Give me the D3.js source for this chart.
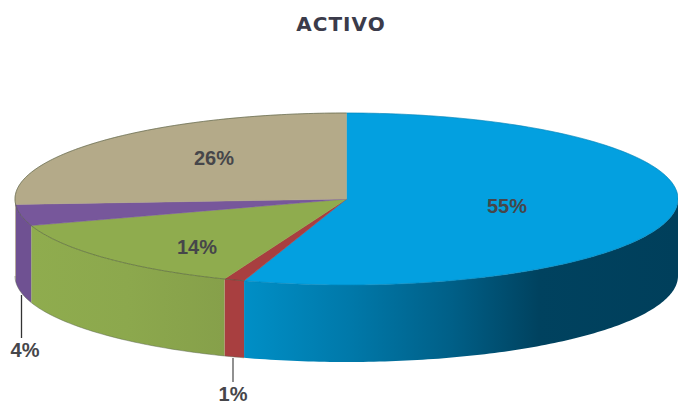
<!DOCTYPE html>
<html>
<head>
<meta charset="utf-8">
<title>ACTIVO</title>
<script src="https://cdn.jsdelivr.net/npm/d3@7"></script>
<style>
  html, body { margin: 0; background: #fff; }
  svg { display: block; }
  text { font-family: "Liberation Sans", Arial, sans-serif; font-weight: bold; fill: #46464a; }
</style>
</head>
<body>
<script>
// Chart values
const chartTitle = 'ACTIVO';
const shares = [55, 1, 14, 4, 26];
const shareLabels = ['55%', '1%', '14%', '4%', '26%'];
const topColors = ['#03a0e0', '#a83f40', '#8fac4e', '#77579b', '#b4aa89'];

// Layout, kept apart from the values
const width = 678, height = 405;
const depth = 77;
const labelAt = [[507, 206], [233, 394], [197, 247], [25, 350], [214, 158]];
const leaders = { 1: [358, 382], 3: [295, 338] };
const leaderX = { 1: 233, 3: 21.5 };

// Wall shading per slice: [offset from the right end of the wall, colour]
const wallStops = [
  [[0, '#003f5b'], [0.32, '#00425f'], [0.52, '#005f87'], [0.76, '#0079aa'], [1, '#008fc6']],
  [[0, '#a83f40'], [1, '#a83f40']],
  [[0, '#86a04a'], [0.5, '#8ca84d'], [1, '#8fac4e']],
  [[0, '#6f5192'], [1, '#6f5192']],
  [[0, '#a89f80'], [1, '#a89f80']]
];

const svg = d3.select('body').append('svg')
  .attr('width', width)
  .attr('height', height);

// The disc is a unit circle mapped onto the ellipse by two scales
const xScale = d3.scaleLinear().domain([-1, 1]).range([15, 678]);
const yScale = d3.scaleLinear().domain([-1, 1]).range([113, 285]);

const pie = d3.pie().sort(null).value(d => d);
const slices = pie(shares);

const px = a => xScale(Math.sin(a));
const py = a => yScale(-Math.cos(a));

function sweep(a0, a1) {
  const n = Math.max(2, Math.ceil((a1 - a0) * 60));
  return d3.range(n + 1).map(i => a0 + (a1 - a0) * i / n);
}

const defs = svg.append('defs');
const wallArea = d3.area().x(px).y0(py).y1(a => py(a) + depth);
const rimLine = d3.line().x(px).y(py);

// Front walls: only the part of each slice between 90 and 270 degrees shows
const frontFrom = Math.PI / 2, frontTo = Math.PI * 1.5;

slices.forEach((s, i) => {
  const a0 = Math.max(s.startAngle, frontFrom);
  const a1 = Math.min(s.endAngle, frontTo);
  if (a1 <= a0) return;
  const pts = sweep(a0, a1);
  const xs = d3.extent(pts, px);

  const grad = defs.append('linearGradient')
    .attr('id', 'wall' + i)
    .attr('gradientUnits', 'userSpaceOnUse')
    .attr('x1', xs[1]).attr('x2', xs[0])
    .attr('y1', 0).attr('y2', 0);
  wallStops[i].forEach(st => {
    grad.append('stop')
      .attr('offset', st[0])
      .attr('stop-color', st[1]);
  });

  svg.append('path')
    .attr('d', wallArea(pts))
    .attr('fill', `url(#wall${i})`);

  // bottom edge
  svg.append('path')
    .attr('d', d3.line().x(px).y(a => py(a) + depth)(pts))
    .attr('fill', 'none')
    .attr('stroke', '#5a6650')
    .attr('stroke-opacity', i === 0 ? 0 : 0.6)
    .attr('stroke-width', 0.8);
});

// Top of the disc
slices.forEach((s, i) => {
  const pts = sweep(s.startAngle, s.endAngle);
  const arc = rimLine(pts);
  svg.append('path')
    .attr('d', `M${xScale(0)},${yScale(0)}L${arc.slice(1)}Z`)
    .attr('fill', topColors[i])
    .attr('stroke', topColors[i])
    .attr('stroke-width', 0.5);
});

// Thin dark rim on the front of the disc and along the back
slices.forEach((s, i) => {
  svg.append('path')
    .attr('d', rimLine(sweep(s.startAngle, s.endAngle)))
    .attr('fill', 'none')
    .attr('stroke', i === 0 ? '#035a80' : '#4a5238')
    .attr('stroke-opacity', i === 0 ? 0.35 : 0.7)
    .attr('stroke-width', 0.8);
});

// Leader lines for the two small slices
Object.keys(leaders).forEach(k => {
  svg.append('line')
    .attr('x1', leaderX[k]).attr('x2', leaderX[k])
    .attr('y1', leaders[k][0]).attr('y2', leaders[k][1])
    .attr('stroke', k === '1' ? '#555' : '#333')
    .attr('stroke-width', 1.3);
});

// Percent labels
svg.selectAll('text.share')
  .data(shareLabels)
  .enter()
  .append('text')
  .attr('class', 'share')
  .attr('x', (d, i) => labelAt[i][0])
  .attr('y', (d, i) => labelAt[i][1])
  .attr('dy', '0.36em')
  .attr('text-anchor', 'middle')
  .attr('font-size', 20)
  .text(d => d);

svg.append('text')
  .attr('x', 341)
  .attr('y', 31)
  .attr('text-anchor', 'middle')
  .attr('font-size', 20)
  .attr('letter-spacing', 1)
  .style('font-family', '"DejaVu Sans", sans-serif')
  .style('fill', '#3b3b4a')
  .text(chartTitle);
</script>
</body>
</html>
